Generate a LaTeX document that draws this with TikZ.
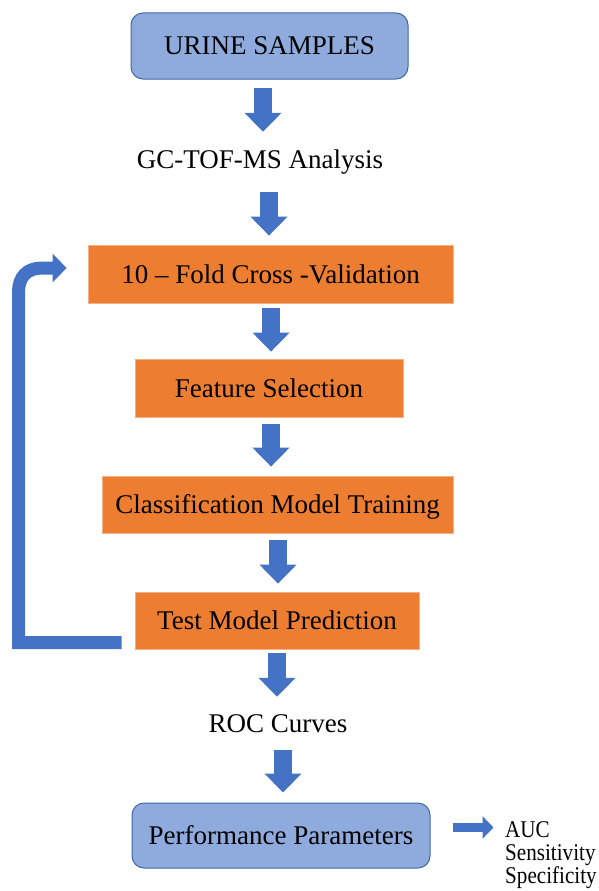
\documentclass[tikz,border=0pt]{standalone}
\usepackage{fontspec}
\setmainfont{Liberation Serif}
\newfontfamily\tallserif[FakeStretch=0.88]{Liberation Serif}
\usetikzlibrary{arrows.meta,calc}
\definecolor{boxblue}{RGB}{143,170,220}
\definecolor{boxblueline}{RGB}{65,105,170}
\definecolor{orangefill}{RGB}{237,125,49}
\definecolor{orangeline}{RGB}{244,177,131}
\definecolor{arrowblue}{RGB}{68,114,196}
\begin{document}
\begin{tikzpicture}[x=1pt,y=-1pt,
  txt/.style={font=\fontsize{27}{32}\selectfont, text=black, inner sep=0pt, text height=18pt, text depth=0pt},
  smalltxt/.style={font=\tallserif\fontsize{24}{27}\selectfont, text=black, inner sep=0pt},
  bluebox/.style={txt, draw=boxblueline, line width=1pt, fill=boxblue, rounded corners=12pt},
  orangebox/.style={txt, draw=orangeline, line width=0.8pt, fill=orangefill},
  downarrow/.style={draw=arrowblue, line width=18pt, -{Triangle[width=36pt,length=19pt]}},
  rightarrow/.style={draw=arrowblue, line width=9pt, -{Triangle[width=22pt,length=11pt]}},
  looparrow/.style={draw=arrowblue, line width=13pt, line join=miter, line cap=butt, -{Triangle[width=28pt,length=14pt]}},
]
\useasboundingbox (0,0) rectangle (599,891);

% nodes
\node[bluebox, minimum width=277pt, minimum height=66pt] (urine) at (269.5,46) {URINE SAMPLES};
\node[txt] (gc) at (260,159) {GC-TOF-MS Analysis};
\node[orangebox, minimum width=365pt, minimum height=58pt] (fold) at (270.5,274) {10 -- Fold Cross -Validation};
\node[orangebox, minimum width=268pt, minimum height=58pt] (feat) at (269,388) {Feature Selection};
\node[orangebox, minimum width=351pt, minimum height=57pt] (class) at (277.5,504.5) {Classification Model Training};
\node[orangebox, minimum width=284pt, minimum height=57pt] (tpred) at (277,620.5) {Test Model Prediction};
\node[txt] (roc) at (278,723) {ROC Curves};
\node[bluebox, minimum width=298pt, minimum height=65pt] (perf) at (281,835.5) {Performance Parameters};
\node[smalltxt, anchor=base west] (auc) at (505,837) {AUC};
\node[smalltxt, anchor=base west] (sens) at (505,860) {Sensitivity};
\node[smalltxt, anchor=base west] (spec) at (505,883) {Specificity};

% vertical block arrows
\draw[downarrow] ($(urine.south)+(-6.5,8)$) -- ($(gc.north)+(3,-18)$);
\draw[downarrow] ($(gc.south)+(9,24)$) -- ($(fold.north)+(-1.5,-9)$);
\draw[downarrow] ($(fold.south)+(0.5,5)$) -- ($(feat.north)+(2,-7)$);
\draw[downarrow] ($(feat.south)+(2,7)$) -- ($(class.north)+(-6.5,-9)$);
\draw[downarrow] ($(class.south)+(0.5,7)$) -- ($(tpred.north)+(1,-8)$);
\draw[downarrow] ($(tpred.south)+(0,4)$) -- ($(roc.north)+(-1,-17)$);
\draw[downarrow] ($(roc.south)+(5,18)$) -- ($(perf.north)+(2,-10)$);

% right arrow to parameters
\draw[rightarrow] ($(perf.east)+(22,-8)$) -- ($(perf.east)+(63,-8)$);

% feedback loop
\coordinate (loopA) at ($(tpred.west)+(-13,22)$);
\coordinate (loopT) at ($(fold.west)+(-21,-6)$);
\draw[looparrow] (loopA) -- (18.5,642.5) -- (18.5,292)
  .. controls (18.5,277) and (27,268) .. (42,268) -- (loopT);
\end{tikzpicture}
\end{document}
